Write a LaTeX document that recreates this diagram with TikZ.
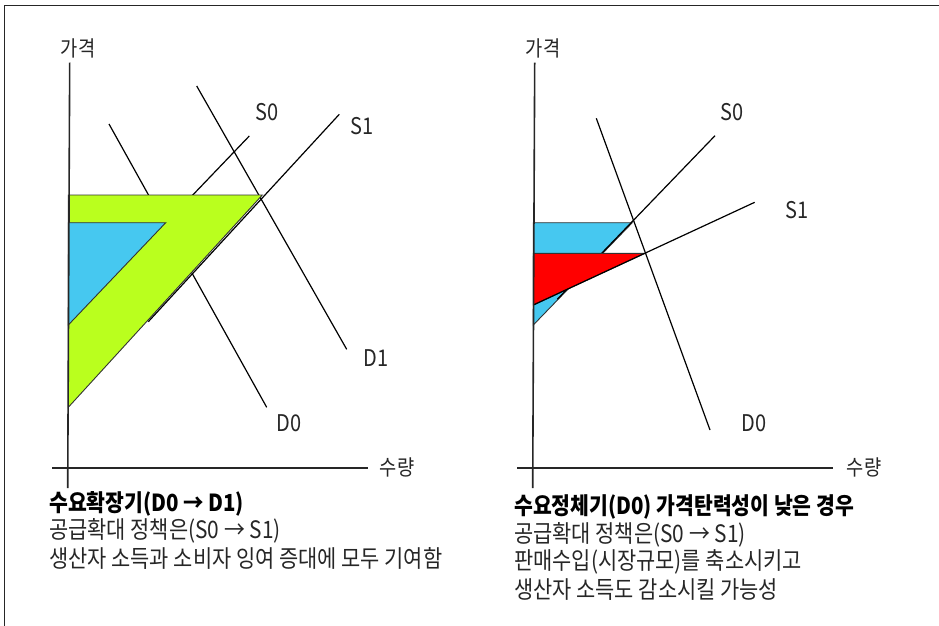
\documentclass[tikz,border=0pt]{standalone}
\usepackage{fontspec}
\setmainfont{Noto Sans CJK KR}[FakeStretch=0.87]
\begin{document}
\begin{tikzpicture}[x=1pt,y=-1pt,
  curve/.style={line width=1.2pt,black},
  axis/.style={line width=1.6pt,black!85},
  area/.style={draw=black!80,line width=0.9pt},
  lbl/.style={inner sep=0pt,font=\fontsize{23}{26}\selectfont,text=black!85},
  plbl/.style={inner sep=0pt,font=\fontsize{21.5}{24}\selectfont,text=black!85},
  txt/.style={inner sep=0pt,anchor=west,font=\fontsize{24}{26}\selectfont,text=black!85},
  ttl/.style={txt,font=\fontsize{23.5}{26}\selectfont\bfseries,text=black}]
\useasboundingbox (0,0) rectangle (939,626);
\definecolor{lime}{RGB}{186,255,30}
\definecolor{sky}{RGB}{70,200,240}
\definecolor{rred}{RGB}{255,0,0}
% frame
\coordinate (F1) at (4.3,630);
\coordinate (F2) at (4.3,5.7);
\coordinate (F3) at (945,5.7);
\draw[line width=1.3pt,black!85] (F1) -- (F2) -- (F3);

% ===== left chart =====
\coordinate (LYt) at (69.7,62.7);
\coordinate (LYb) at (67.7,488);
\coordinate (LXl) at (52.3,468);
\coordinate (LXr) at (368.3,468);
\coordinate (LD0a) at (109,124);
\coordinate (LD0b) at (266.7,407.3);
\coordinate (LD1a) at (196.7,86);
\coordinate (LD1b) at (346.7,349.3);
\coordinate (LS0a) at (68.3,325);
\coordinate (LS0b) at (249.3,136);
\coordinate (LS1a) at (148.3,321.7);
\coordinate (LS1b) at (339.3,114.3);
\coordinate (LG1) at (68.3,195);
\coordinate (LG2) at (262.3,195);
\coordinate (LG3) at (68.3,407.3);
\coordinate (LB1) at (68.3,222.7);
\coordinate (LB2) at (165.7,222.7);
\coordinate (LB3) at (68.3,325);

\draw[curve] (LD0a) -- (LD0b);
\draw[curve] (LD1a) -- (LD1b);
\draw[curve] (LS0a) -- (LS0b);
\fill[lime,area] (LG1) -- (LG2) -- (LG3) -- cycle;
\fill[sky,area] (LB1) -- (LB2) -- (LB3) -- cycle;
\draw[curve] (LS1a) -- (LS1b);
\draw[axis] (LYt) -- (LYb);
\draw[axis] (LXl) -- (LXr);

\node[plbl] (lp) at (78,48) {가격};
\node[plbl] (lq) at (397,467) {수량};
\node[lbl] (ls0) at (266.7,111.7) {S0};
\node[lbl] (ls1) at (361.7,126) {S1};
\node[lbl] (ld1) at (375.7,357.7) {D1};
\node[lbl] (ld0) at (289.3,423.3) {D0};

\node[ttl] (lt1) at (49,504) {수요확장기(D0 → D1)};
\node[txt] (lt2) at (49,531) {공급확대 정책은(S0 → S1)};
\node[txt] (lt3) at (49,558) {생산자 소득과 소비자 잉여 증대에 모두 기여함};

% ===== right chart =====
\coordinate (RYt) at (534.7,62.7);
\coordinate (RYb) at (532.7,488);
\coordinate (RXl) at (517.3,468);
\coordinate (RXr) at (833.3,468);
\coordinate (RD0a) at (596.3,118.3);
\coordinate (RD0b) at (710,430);
\coordinate (RS0a) at (557.3,299.3);
\coordinate (RS0b) at (715,135.7);
\coordinate (RS1a) at (533.3,305);
\coordinate (RS1b) at (754.7,202.3);
\coordinate (RB1) at (533.3,222.7);
\coordinate (RB2) at (632.3,222.7);
\coordinate (RB3) at (533.3,325);
\coordinate (RR1) at (533.3,253.3);
\coordinate (RR2) at (645,253.3);
\coordinate (RR3) at (533.3,305);

\fill[sky,area] (RB1) -- (RB2) -- (RB3) -- cycle;
\draw[curve] (RS0a) -- (RS0b);
\fill[rred,area] (RR1) -- (RR2) -- (RR3) -- cycle;
\draw[curve] (RS1a) -- (RS1b);
\draw[curve] (RD0a) -- (RD0b);
\draw[axis] (RYt) -- (RYb);
\draw[axis] (RXl) -- (RXr);

\node[plbl] (rp) at (543,48) {가격};
\node[plbl] (rq) at (864,467) {수량};
\node[lbl] (rs0) at (732.3,111.7) {S0};
\node[lbl] (rs1) at (797.3,210) {S1};
\node[lbl] (rd0) at (754,423.3) {D0};

\node[ttl] (rt1) at (514,507) {수요정체기(D0) 가격탄력성이 낮은 경우};
\node[txt] (rt2) at (514,534.5) {공급확대 정책은(S0 → S1)};
\node[txt] (rt3) at (514,562) {판매수입(시장규모)를 축소시키고};
\node[txt] (rt4) at (514,590) {생산자 소득도 감소시킬 가능성};
\end{tikzpicture}
\end{document}
